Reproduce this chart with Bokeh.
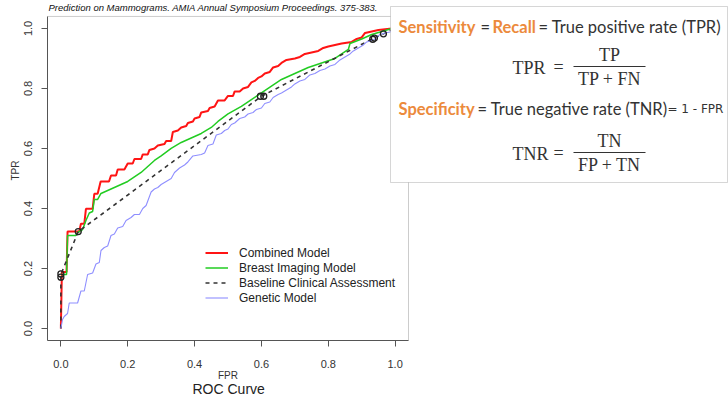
from bokeh.plotting import figure
from bokeh.models import (Label, BoxAnnotation, Legend, LegendItem, FixedTicker,
                          PrintfTickFormatter, Range1d, Title)
from bokeh.embed import file_html
from bokeh.resources import INLINE

# ---------------- data ----------------
combined_fpr = [0, 0.003, 0.017, 0.02, 0.055, 0.06, 0.07, 0.075, 0.095, 0.1, 0.11, 0.119, 0.144,
                0.15, 0.165, 0.17, 0.19, 0.2, 0.215, 0.22, 0.24, 0.245, 0.26, 0.265, 0.28, 0.29,
                0.31, 0.315, 0.33, 0.335, 0.35, 0.36, 0.375, 0.38, 0.395, 0.4, 0.415, 0.42, 0.44,
                0.445, 0.46, 0.47, 0.49, 0.5, 0.515, 0.52, 0.535, 0.545, 0.56, 0.57, 0.58, 0.59,
                0.6, 0.61, 0.625, 0.635, 0.65, 0.66, 0.675, 0.7, 0.715, 0.73, 0.75, 0.77, 0.785,
                0.8, 0.82, 0.84, 0.87, 0.885, 0.9, 0.91, 0.93, 0.95, 0.99, 1.0]
combined_tpr = [0, 0.188, 0.188, 0.323, 0.323, 0.349, 0.349, 0.399, 0.399, 0.449, 0.449, 0.49, 0.49,
                0.51, 0.51, 0.53, 0.53, 0.55, 0.55, 0.565, 0.565, 0.58, 0.58, 0.595, 0.6, 0.61,
                0.615, 0.625, 0.625, 0.655, 0.66, 0.67, 0.675, 0.685, 0.69, 0.7, 0.705, 0.72, 0.725,
                0.735, 0.74, 0.76, 0.76, 0.775, 0.775, 0.79, 0.79, 0.8, 0.805, 0.82, 0.825, 0.835,
                0.84, 0.85, 0.855, 0.87, 0.875, 0.885, 0.895, 0.9, 0.905, 0.915, 0.92, 0.925, 0.935,
                0.94, 0.945, 0.95, 0.955, 0.965, 0.97, 0.985, 0.99, 0.995, 1.0, 1.0]

imaging_fpr = [0, 0.017, 0.02, 0.045, 0.05, 0.065, 0.075, 0.085, 0.095, 0.1, 0.11, 0.12, 0.14, 0.16,
               0.18, 0.2, 0.22, 0.24, 0.26, 0.28, 0.3, 0.33, 0.36, 0.4, 0.42, 0.45, 0.47, 0.5, 0.54,
               0.58, 0.62, 0.66, 0.7, 0.74, 0.78, 0.82, 0.86, 0.865, 0.9, 0.93, 0.96, 0.99, 1.0]
imaging_tpr = [0.18, 0.18, 0.31, 0.31, 0.32, 0.33, 0.36, 0.385, 0.39, 0.43, 0.43, 0.45, 0.46, 0.47,
               0.48, 0.49, 0.505, 0.52, 0.54, 0.56, 0.575, 0.6, 0.62, 0.64, 0.65, 0.67, 0.69, 0.715,
               0.74, 0.77, 0.8, 0.83, 0.85, 0.87, 0.885, 0.9, 0.93, 0.95, 0.965, 0.98, 0.99, 1.0, 1.0]

baseline_fpr = [0, 0, 0.052, 0.6, 0.933, 0.965, 1.0]
baseline_tpr = [0, 0.18, 0.323, 0.774, 0.966, 0.982, 1.0]
threshold_fpr = [0, 0, 0.052, 0.597, 0.607, 0.933, 0.938, 0.965]
threshold_tpr = [0.171, 0.182, 0.323, 0.774, 0.774, 0.964, 0.968, 0.982]

genetic_fpr = [0, 0.005, 0.01, 0.02, 0.025, 0.05, 0.06, 0.07, 0.08, 0.095, 0.105, 0.115, 0.12, 0.13,
               0.14, 0.15, 0.16, 0.17, 0.185, 0.195, 0.21, 0.22, 0.235, 0.245, 0.255, 0.27, 0.28,
               0.29, 0.3, 0.315, 0.33, 0.34, 0.355, 0.37, 0.38, 0.395, 0.42, 0.43, 0.44, 0.455,
               0.465, 0.48, 0.49, 0.5, 0.51, 0.52, 0.535, 0.55, 0.56, 0.575, 0.585, 0.6, 0.61,
               0.625, 0.635, 0.65, 0.66, 0.675, 0.69, 0.7, 0.715, 0.73, 0.745, 0.76, 0.775, 0.79,
               0.805, 0.82, 0.835, 0.85, 0.865, 0.875, 0.89, 0.905, 0.915, 0.93, 0.94, 0.955, 0.97,
               0.985, 1.0]
genetic_tpr = [0, 0.03, 0.04, 0.05, 0.085, 0.085, 0.125, 0.125, 0.18, 0.185, 0.215, 0.22, 0.26, 0.27,
               0.275, 0.31, 0.315, 0.335, 0.34, 0.36, 0.37, 0.38, 0.38, 0.4, 0.41, 0.455, 0.465,
               0.47, 0.48, 0.49, 0.5, 0.52, 0.535, 0.545, 0.555, 0.575, 0.58, 0.585, 0.61, 0.615,
               0.645, 0.65, 0.66, 0.665, 0.68, 0.685, 0.7, 0.705, 0.715, 0.72, 0.73, 0.735, 0.75,
               0.755, 0.77, 0.78, 0.785, 0.795, 0.805, 0.815, 0.825, 0.83, 0.845, 0.85, 0.86, 0.865,
               0.875, 0.88, 0.895, 0.905, 0.915, 0.925, 0.935, 0.945, 0.955, 0.96, 0.965, 0.98,
               0.985, 0.988, 1.0]

ticks = [0.0, 0.2, 0.4, 0.6, 0.8, 1.0]
axis_lo, axis_hi = -0.04, 1.04
series_names = ["Combined Model", "Breast Imaging Model", "Baseline Clinical Assessment", "Genetic Model"]
top_caption = "Prediction on Mammograms. AMIA Annual Symposium Proceedings. 375-383."

# ---------------- layout constants (canvas px) ----------------
W, H = 728, 396
AX_L, AX_R, AX_T, AX_B = 47, 408, 16, 341   # ROC plotting box
px_x = (AX_R - AX_L) / (axis_hi - axis_lo)
px_y = (AX_B - AX_T) / (axis_hi - axis_lo)
x_end = axis_lo + (W - AX_L) / px_x          # frame extends to the right edge
y_end = axis_lo + AX_B / px_y                # frame extends to the top edge

p = figure(width=W, height=H, output_backend="svg", toolbar_location=None, title=None,
           x_range=Range1d(axis_lo, x_end), y_range=Range1d(axis_lo, y_end),
           min_border_left=AX_L, min_border_right=0, min_border_top=0,
           min_border_bottom=H - AX_B, background_fill_color="white",
           border_fill_color="white")
p.grid.visible = False
p.outline_line_color = None

for ax in (p.xaxis[0], p.yaxis[0]):
    ax.bounds = (axis_lo, axis_hi)
    ax.ticker = FixedTicker(ticks=ticks)
    ax.formatter = PrintfTickFormatter(format="%.1f")
    ax.minor_tick_line_color = None
    ax.major_tick_in = 0
    ax.major_tick_out = 6
    ax.axis_line_color = "#555555"
    ax.major_tick_line_color = "#555555"
    ax.major_label_text_font = "Liberation Sans"
    ax.major_label_text_font_size = "11px"
    ax.major_label_text_color = "#333333"
p.xaxis.major_label_standoff = 13
p.yaxis.major_label_standoff = 9
p.yaxis.major_label_orientation = "vertical"
p.yaxis.axis_label = "TPR"
p.yaxis.axis_label_text_font = "Liberation Sans"
p.yaxis.axis_label_text_font_size = "10px"
p.yaxis.axis_label_text_font_style = "normal"
p.yaxis.axis_label_text_color = "#333333"
p.yaxis.axis_label_standoff = 1

# x-axis label and caption, centred under the plotting box
centre_off = lambda text_w: (AX_R - AX_L) / 2 - text_w / 2
p.add_layout(Title(text="FPR", align="left", offset=centre_off(20), standoff=-5,
                   text_font="Liberation Sans", text_font_size="10px",
                   text_font_style="normal", text_color="#333333"), "below")
p.add_layout(Title(text="ROC Curve", align="left", offset=centre_off(71), standoff=0,
                   text_font="Liberation Sans", text_font_size="14px",
                   text_font_style="normal", text_color="#222222"), "below")

# plotting box outline (R box())
p.add_layout(BoxAnnotation(left=axis_lo, right=axis_hi, bottom=axis_lo, top=axis_hi,
                           fill_alpha=0, line_color="#555555", line_width=1, level="underlay"))

r_comb = p.line(combined_fpr, combined_tpr, line_color="#FF1414", line_width=2.0)
r_img = p.line(imaging_fpr, imaging_tpr, line_color="#22CC22", line_width=1.5)
r_base = p.line(baseline_fpr, baseline_tpr, line_color="#333333", line_width=1.6, line_dash="4 4")
r_gen = p.line(genetic_fpr, genetic_tpr, line_color="#8F8FFF", line_width=1.1)
p.scatter(threshold_fpr, threshold_tpr, marker="circle", size=6, fill_color=None,
          line_color="#222222", line_width=1.3)

legend = Legend(items=[LegendItem(label=series_names[0], renderers=[r_comb]),
                       LegendItem(label=series_names[1], renderers=[r_img]),
                       LegendItem(label=series_names[2], renderers=[r_base]),
                       LegendItem(label=series_names[3], renderers=[r_gen])],
                location=(205 - AX_L, AX_B - 306))
legend.padding = 0
legend.margin = 0
legend.spacing = 0
legend.glyph_width = 23
legend.glyph_height = 15
legend.label_height = 15
legend.label_standoff = 11
legend.label_text_font = "Liberation Sans"
legend.label_text_font_size = "12px"
legend.label_text_color = "#222222"
legend.background_fill_alpha = 0
legend.border_line_alpha = 0
p.add_layout(legend)

# ---------------- top caption ----------------
p.add_layout(Label(x=48, y=1, x_units="canvas", y_units="canvas", text=top_caption,
                   text_font="Liberation Sans", text_font_size="9.5px", text_font_style="italic",
                   text_color="#111111", text_baseline="top"))

# ---------------- definition box ----------------
ORANGE = "#EC8A3C"
DARK = "#333333"
p.add_layout(BoxAnnotation(left=390, right=727, top=6, bottom=182,
                           left_units="canvas", right_units="canvas",
                           top_units="canvas", bottom_units="canvas",
                           fill_color="white", fill_alpha=1.0,
                           line_color="#777777", line_width=1, level="overlay"))

def txt(x, y, s, color=DARK, font="Lato", size="16.5px", style="normal", align="left"):
    p.add_layout(Label(x=x, y=y, x_units="canvas", y_units="canvas", text=s,
                       text_font=font, text_font_size=size, text_font_style=style,
                       text_color=color, text_align=align, text_baseline="middle",
                       level="overlay"))

txt(398, 26, "Sensitivity", ORANGE, style="bold")
txt(480, 26, "=")
txt(492, 26, "Recall", ORANGE, style="bold")
txt(538, 26, "= True positive rate (TPR)")

txt(398, 108, "Specificity", ORANGE, style="bold")
txt(477, 108, "= True negative rate (TNR)")
txt(667, 108, "= 1 - FPR", font="DejaVu Sans", size="12px")

SERIF = "Liberation Serif"
for (yc, lhs, num, den) in ((67, "TPR", "TP", "TP + FN"), (153, "TNR", "TN", "FP + TN")):
    txt(512, yc, lhs, font=SERIF, size="18px")
    txt(558, yc - 1, "=", font=SERIF, size="18px", align="center")
    txt(609, yc - 13, num, font=SERIF, size="18px", align="center")
    txt(609, yc + 11, den, font=SERIF, size="18px", align="center")
    p.add_layout(BoxAnnotation(left=573, right=645, top=yc - 1.5, bottom=yc - 0.5,
                               left_units="canvas", right_units="canvas",
                               top_units="canvas", bottom_units="canvas",
                               fill_color=DARK, fill_alpha=1.0, line_alpha=0,
                               level="overlay"))

open("out.html", "w").write(file_html(p, INLINE))
